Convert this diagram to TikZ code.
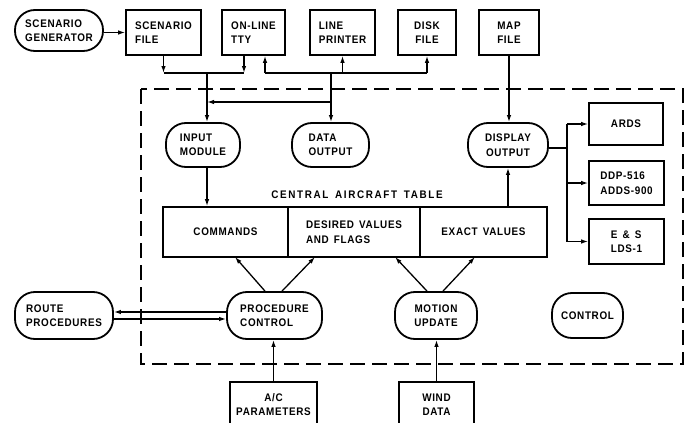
\documentclass[tikz,border=0pt]{standalone}
\usepackage{fontspec}
\setsansfont{Liberation Sans}[FakeStretch=0.9,LetterSpace=6,WordSpace=1.5]
\usetikzlibrary{arrows.meta}
\tikzset{
  lbl/.style={font=\sffamily\bfseries\fontsize{11}{14.5}\selectfont, inner sep=0pt},
  box/.style={lbl, draw, line width=1.6pt, align=left},
  pill/.style={lbl, draw, line width=1.8pt, rounded corners=20pt, align=left},
  conn/.style={line width=1.3pt},
  arr/.style={conn, -{Latex[length=7pt,width=4.5pt]}},
  frame/.style={line width=1.8pt, dash pattern=on 15pt off 7pt}
}
\begin{document}
\begin{tikzpicture}[x=1pt,y=-1pt]
\useasboundingbox (0,0) rectangle (686,423);
\begin{scope}
\clip (0,0) rectangle (686,423);
% dashed frame
\draw[frame] (141,89) rectangle (683,364);
% top row
\node[pill, minimum width=88pt, minimum height=41pt] (sg) at (59,30.5) {SCENARIO\\GENERATOR};
\node[box, minimum width=75pt, minimum height=45pt] (sf) at (163.5,32.5) {SCENARIO\\FILE};
\node[box, minimum width=63pt, minimum height=45pt] (tty) at (253.5,32.5) {ON-LINE\\TTY};
\node[box, minimum width=65pt, minimum height=45pt] (lp) at (342.5,32.5) {LINE\\PRINTER};
\node[box, minimum width=58pt, minimum height=45pt, align=center] (df) at (427,32.5) {DISK\\FILE};
\node[box, minimum width=60pt, minimum height=45pt] (mf) at (509,32.5) {MAP\\FILE};
% middle ovals
\node[pill, minimum width=74pt, minimum height=44pt] (im) at (203,145) {INPUT\\MODULE};
\node[pill, minimum width=77pt, minimum height=44pt] (dout) at (330.5,145) {DATA\\OUTPUT};
\node[pill, minimum width=80pt, minimum height=44pt, align=center] (dispo) at (508,145) {DISPLAY\\OUTPUT};
% table
\node[lbl] (title) at (357,195) {\addfontfeature{LetterSpace=15}CENTRAL AIRCRAFT TABLE};
\node[box, minimum width=125pt, minimum height=50pt] (cmd) at (225.5,232) {COMMANDS};
\node[box, minimum width=132pt, minimum height=50pt] (dv) at (354,232) {DESIRED VALUES\\AND FLAGS};
\node[box, minimum width=127pt, minimum height=50pt] (ev) at (483.5,232) {EXACT VALUES};
% right devices
\node[box, minimum width=74pt, minimum height=42pt] (ards) at (626,124) {ARDS};
\node[box, minimum width=75pt, minimum height=44pt] (ddp) at (626.5,183) {DDP-516\\ADDS-900};
\node[box, minimum width=75pt, minimum height=45pt] (es) at (626.5,241.5) {E \& S\\LDS-1};
\node[pill, minimum width=71pt, minimum height=45pt] (ctl) at (587.5,315.5) {CONTROL};
% bottom row
\node[pill, minimum width=98pt, minimum height=47pt] (rp) at (64,315.5) {ROUTE\\PROCEDURES};
\node[pill, minimum width=95pt, minimum height=47pt] (pc) at (274.5,315.5) {PROCEDURE\\CONTROL};
\node[pill, minimum width=82pt, minimum height=47pt, align=center] (mu) at (436,315.5) {MOTION\\UPDATE};
\node[box, minimum width=87pt, minimum height=45pt, align=center] (ac) at (273.5,404.5) {A/C\\PARAMETERS};
\node[box, minimum width=75pt, minimum height=45pt, align=center] (wd) at (436.5,404.5) {WIND\\DATA};
% coordinates
\coordinate (busL) at (207,73);
\coordinate (busR) at (331,73);
\coordinate (tee) at (331,102);
\coordinate (rb) at (567,148);
\coordinate (t1) at (235,257);
\coordinate (t2) at (315,257);
\coordinate (t3) at (395,257);
\coordinate (t4) at (475,257);
% top connectors
\draw[arr] (sg.east |- sf.west) -- (sf.west);
\draw[arr] (sf.south) -- (sf.south |- busL);
\draw[arr] ([xshift=-9.5pt]tty.south) -- ([xshift=-9.5pt]tty.south |- busL);
\draw[conn] (sf.south |- busL) -- ([xshift=-9.5pt]tty.south |- busL);
\draw[arr] (busL) -- (busL |- im.north);
\draw[conn] ([xshift=11.5pt]tty.south |- busR) -- (df.south |- busR);
\draw[arr] ([xshift=11.5pt]tty.south |- busR) -- ([xshift=11.5pt]tty.south);
\draw[arr] (lp.south |- busR) -- (lp.south);
\draw[arr] (df.south |- busR) -- (df.south);
\draw[arr] (busR) -- (busR |- dout.north);
\draw[arr] (tee) -- (tee -| busL);
\draw[arr] (mf.south) -- (mf.south |- dispo.north);
% table connectors
\draw[arr] (busL |- im.south) -- (busL |- cmd.north);
\draw[arr] (dispo.south |- ev.north) -- (dispo.south);
% right fan-out
\draw[conn] (dispo.east |- rb) -- (rb);
\draw[conn] (ards.west -| rb) -- (es.west -| rb);
\draw[arr] (ards.west -| rb) -- (ards.west);
\draw[arr] (ddp.west -| rb) -- (ddp.west);
\draw[arr] (es.west -| rb) -- (es.west);
% bottom to table
\draw[arr] ([xshift=-9.5pt]pc.north) -- (t1);
\draw[arr] ([xshift=7.5pt]pc.north) -- (t2);
\draw[arr] ([xshift=-9pt]mu.north) -- (t3);
\draw[arr] ([xshift=7pt]mu.north) -- (t4);
% route procedures
\draw[arr] ([yshift=3.5pt]pc.west) -- ([yshift=3.5pt]pc.west -| rp.east);
\draw[arr] ([yshift=-3.5pt]rp.east) -- ([yshift=-3.5pt]rp.east -| pc.west);
% inputs from below
\draw[arr] (ac.north) -- (ac.north |- pc.south);
\draw[arr] (wd.north) -- (wd.north |- mu.south);
\end{scope}
\end{tikzpicture}
\end{document}
